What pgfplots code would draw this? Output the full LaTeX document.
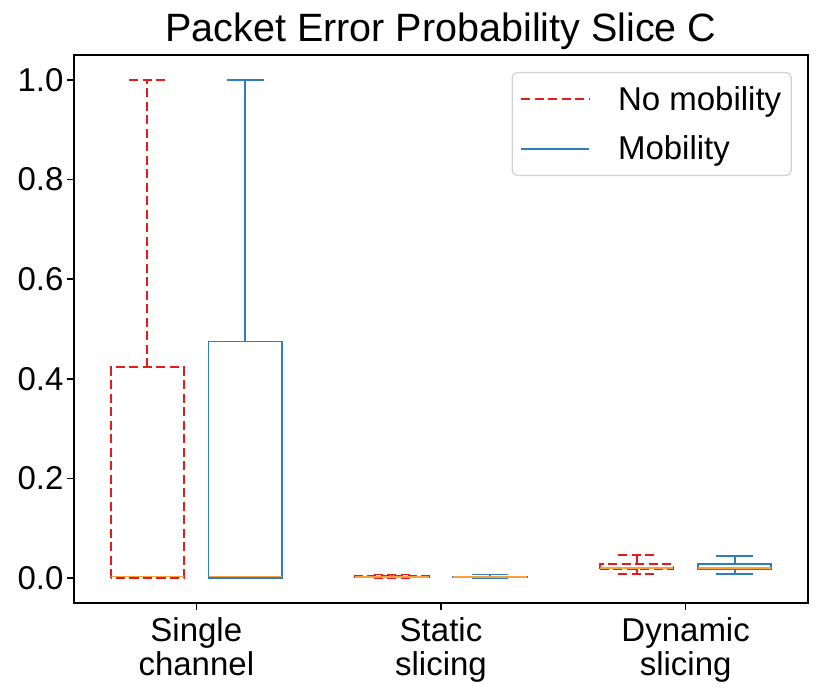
\documentclass[border=0pt]{standalone}
\usepackage{pgfplots}
\pgfplotsset{compat=1.18}
\usepgfplotslibrary{statistics}
\usepackage{fontspec}
\setmainfont{Liberation Sans}
\definecolor{nored}{HTML}{E41A1C}
\definecolor{mblue}{HTML}{2F7EBC}
\definecolor{medorange}{HTML}{F9A03F}
\tikzset{redbox/.style={nored, line width=1.8pt, dash pattern=on 9pt off 4.5pt},
         bluebox/.style={mblue, line width=1.8pt, solid}}
\pgfplotsset{longline/.style={legend image code/.code={\draw[##1] (0pt,0pt) -- (68pt,0pt);}}}
\begin{document}
\begin{tikzpicture}
\path[use as bounding box] (-74pt,-95pt) rectangle (757pt,603pt);
\begin{axis}[
  at={(0pt,0pt)}, anchor=south west,
  scale only axis, width=734pt, height=548pt,
  xmin=-0.5, xmax=2.5, ymin=-0.05, ymax=1.05,
  xtick={0,1,2},
  xticklabels={{Single\\channel},{Static\\slicing},{Dynamic\\slicing}},
  ytick={0,0.2,0.4,0.6,0.8,1.0},
  yticklabel style={/pgf/number format/.cd, fixed, fixed zerofill, precision=1, assume math mode=true},
  ticklabel style={font=\fontsize{33}{34}\selectfont},
  xticklabel style={align=center, yshift=-4pt},
  tick align=outside, xtick pos=bottom, ytick pos=left,
  major tick length=7pt,
  every tick/.style={black, line width=1.6pt},
  axis line style={line width=1.6pt},
  title={Packet Error Probability Slice C},
  title style={font=\fontsize{39.5}{44}\selectfont, yshift=-4pt},
  legend style={at={(0.978,0.969)}, anchor=north east, draw=black!18, line width=1.2pt,
     rounded corners=5pt, font=\fontsize{33}{38}\selectfont, inner xsep=8pt, inner ysep=12pt,
     row sep=20pt, /tikz/every odd column/.append style={column sep=26pt}},
  legend cell align=left,
  boxplot/draw direction=y,
  boxplot/every median/.style={draw=medorange, solid, line width=1.8pt},
]
% Single channel
\addplot[redbox, forget plot, boxplot prepared={draw position=-0.2, lower whisker=0, lower quartile=0, median=0.003, upper quartile=0.423, upper whisker=1.0, box extend=0.3, whisker extend=0.15}] coordinates {};
\addplot[bluebox, forget plot, boxplot prepared={draw position=0.2, lower whisker=0, lower quartile=0, median=0.003, upper quartile=0.475, upper whisker=1.0, box extend=0.3, whisker extend=0.15}] coordinates {};
% Static slicing
\addplot[redbox, forget plot, boxplot prepared={draw position=0.8, lower whisker=0, lower quartile=0.001, median=0.002, upper quartile=0.004, upper whisker=0.007, box extend=0.3, whisker extend=0.15}] coordinates {};
\addplot[bluebox, forget plot, boxplot prepared={draw position=1.2, lower whisker=0, lower quartile=0.001, median=0.002, upper quartile=0.003, upper whisker=0.007, box extend=0.3, whisker extend=0.15}] coordinates {};
% Dynamic slicing
\addplot[redbox, forget plot, boxplot prepared={draw position=1.8, lower whisker=0.0086, lower quartile=0.0174, median=0.020, upper quartile=0.028, upper whisker=0.046, box extend=0.3, whisker extend=0.15}] coordinates {};
\addplot[bluebox, forget plot, boxplot prepared={draw position=2.2, lower whisker=0.0086, lower quartile=0.018, median=0.0206, upper quartile=0.028, upper whisker=0.044, box extend=0.3, whisker extend=0.15}] coordinates {};
\addlegendimage{redbox, longline}
\addlegendentry{No mobility}
\addlegendimage{bluebox, longline}
\addlegendentry{Mobility}
\end{axis}
\end{tikzpicture}
\end{document}
